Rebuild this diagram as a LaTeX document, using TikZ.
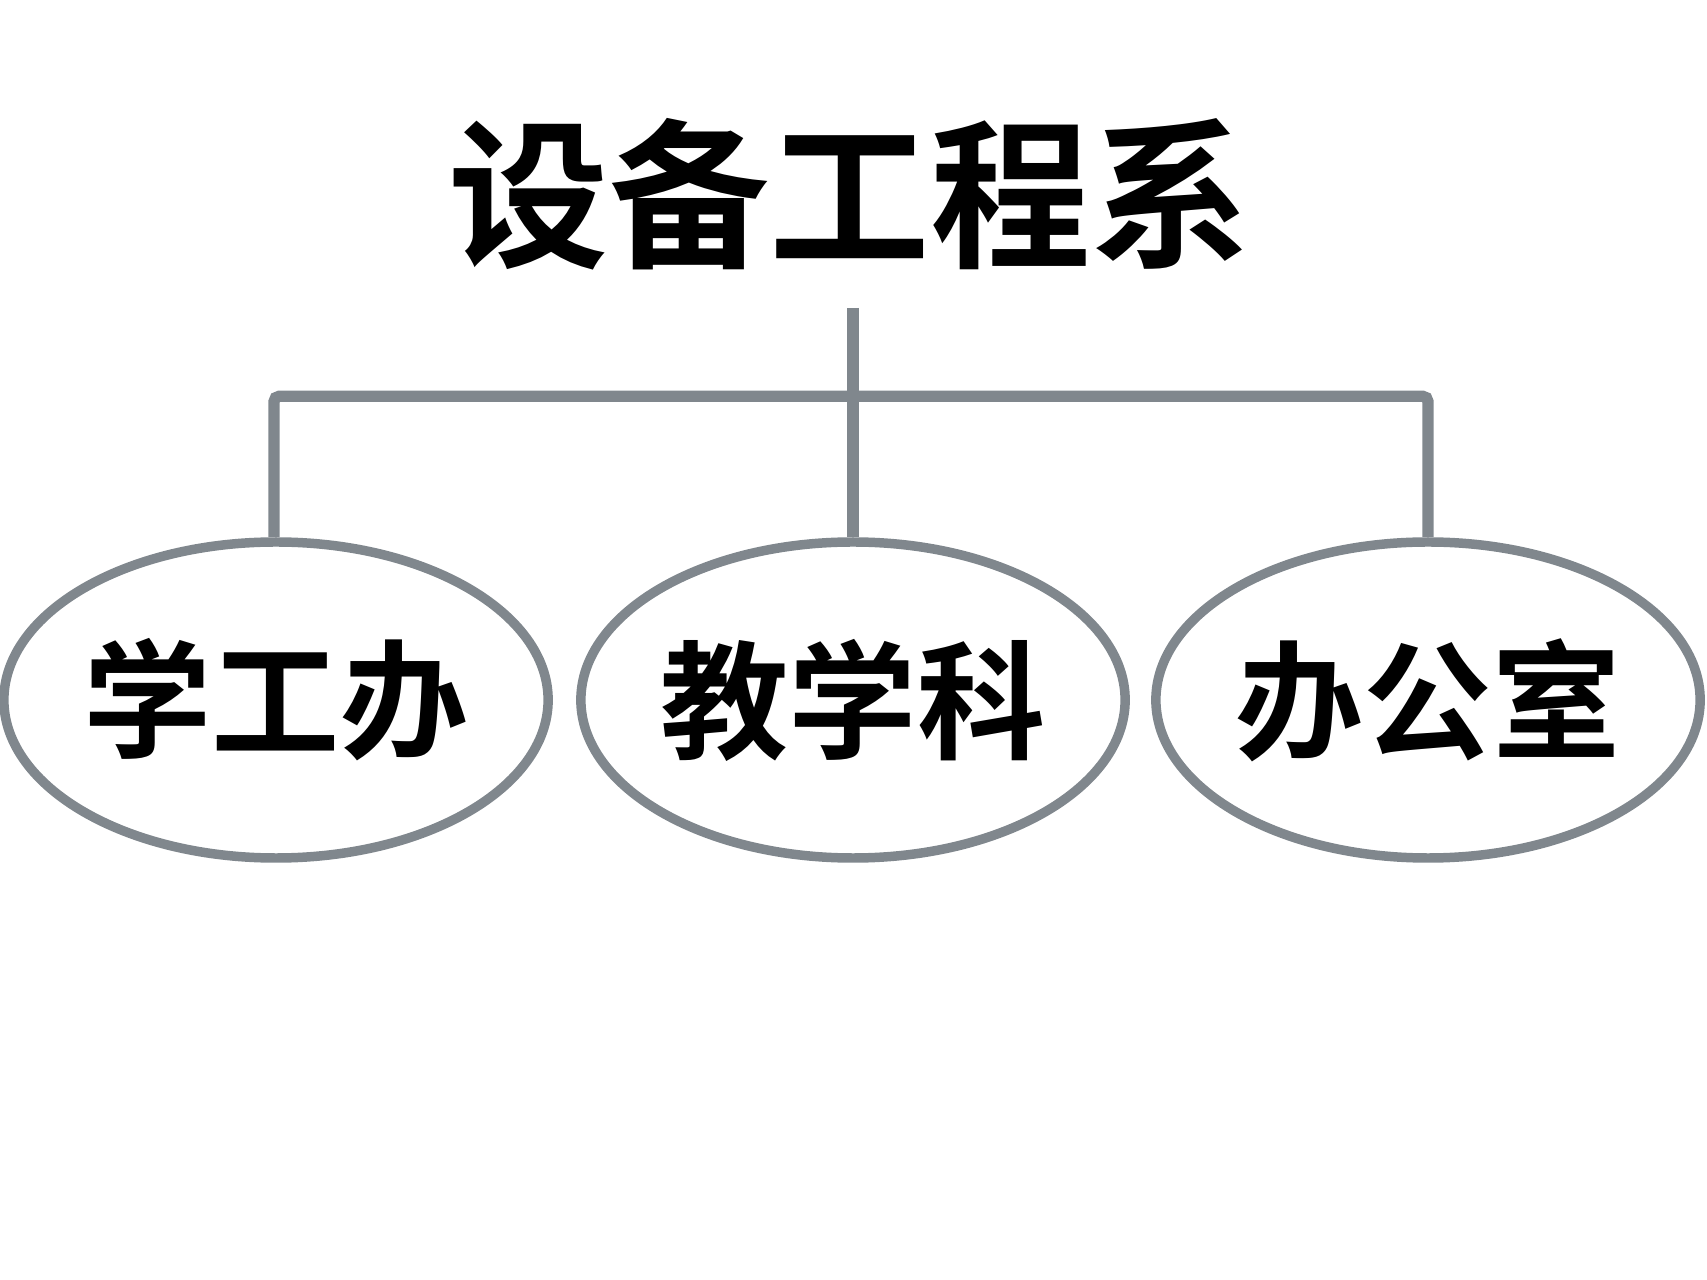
\documentclass[tikz,border=0pt]{standalone}
\usepackage{fontspec}
\newfontfamily\cjk{Noto Sans CJK SC}[BoldFont={* Bold}]
\usetikzlibrary{shapes.geometric,positioning}
\definecolor{linegray}{HTML}{80878D}
\begin{document}
\begin{tikzpicture}[unit/.style={ellipse,draw=linegray,line width=2.7pt,inner sep=0pt,minimum width=5.4cm,minimum height=3.16cm,font=\cjk\bfseries\fontsize{36.5}{40}\selectfont},
link/.style={draw=linegray,line width=3.2pt,rounded corners=1.5pt}]
\useasboundingbox (0,0) rectangle (17.07,-12.80);
\node[font=\cjk\bfseries\fontsize{45.7}{50}\selectfont] at (8.50,-1.94) (dept) {设备工程系};
\coordinate (top) at (8.53,-3.08);

\node[unit,minimum width=5.42cm] at (2.76,-7.00) (xgb) {学工办};
\node[unit,minimum width=5.44cm] at (8.53,-7.00) (jxk) {教学科};
\node[unit,minimum width=5.34cm] at (14.28,-7.00) (bgs) {办公室};

\draw[link] (top) -- (jxk.north);
\draw[link] ([xshift=-0.02cm]xgb.north) -- ++(0,1.41) -| (bgs.north);
\end{tikzpicture}
\end{document}
